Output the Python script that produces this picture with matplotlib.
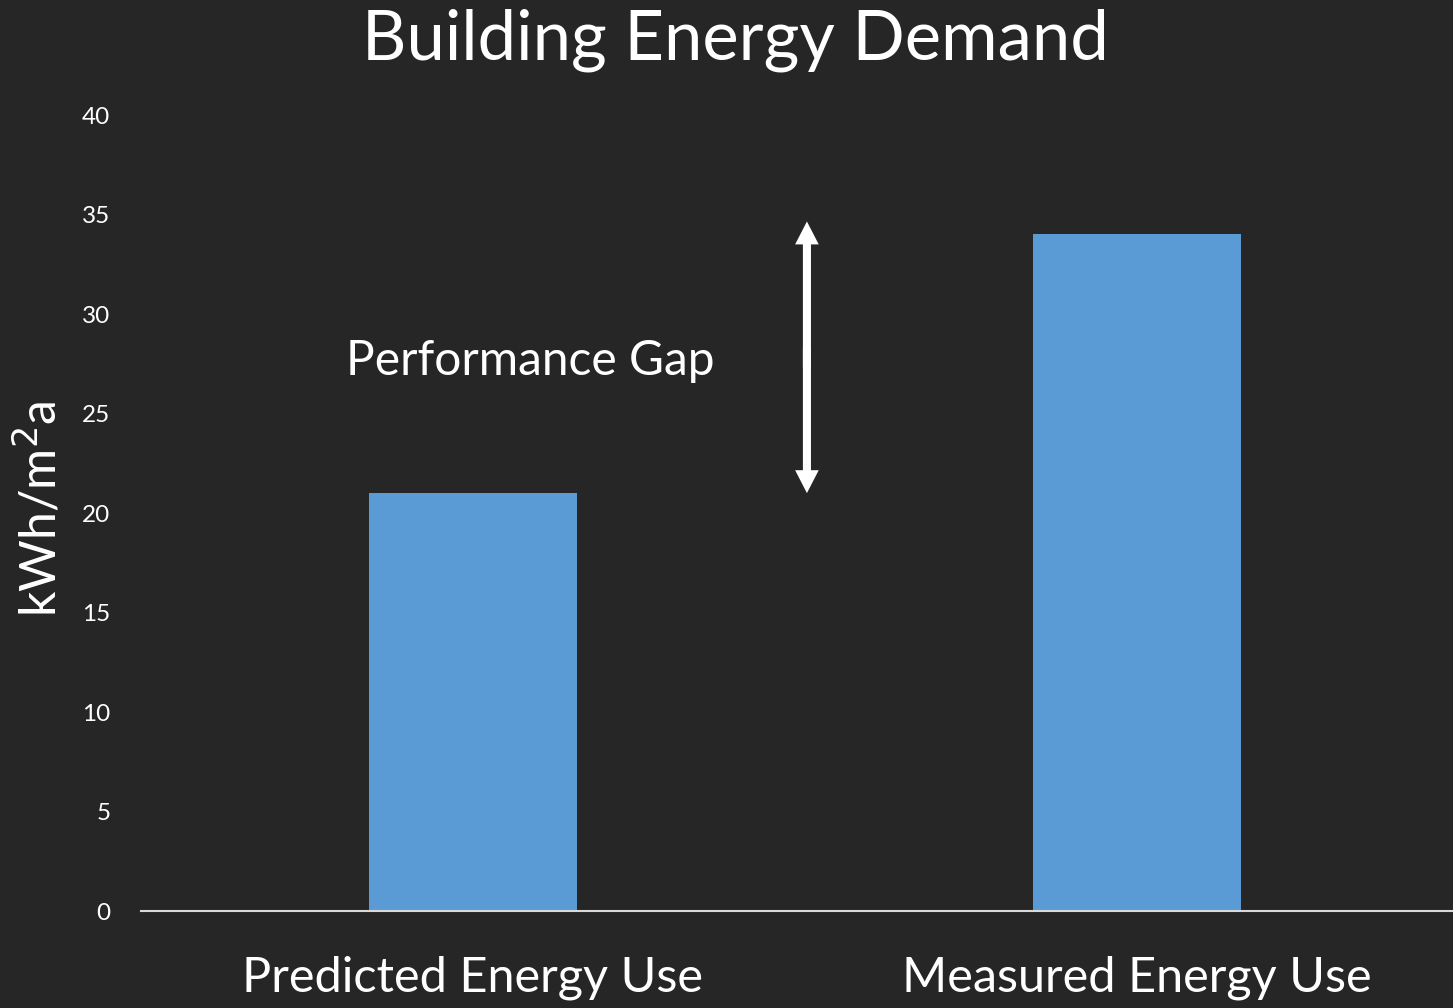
import matplotlib
matplotlib.use("Agg")
import matplotlib.pyplot as plt
from matplotlib.patches import FancyArrowPatch

categories = ["Predicted Energy Use", "Measured Energy Use"]
energy_use = [21, 34]
y_ticks = [0, 5, 10, 15, 20, 25, 30, 35, 40]

bg = "#262626"
bar_color = "#5B9BD5"
plt.rcParams["font.family"] = ["Lato", "DejaVu Sans"]

fig = plt.figure(figsize=(14.53, 10.08), dpi=100, facecolor=bg)
ax = fig.add_axes([0.097, 0.0962, 0.903, 0.7897], facecolor=bg)

x = list(range(len(categories)))
ax.bar(x, energy_use, width=0.313, color=bar_color, zorder=2)

ax.set_xlim(-0.5, 1.476)
ax.set_ylim(0, 40)
ax.set_yticks(y_ticks)
ax.set_xticks(x)
ax.set_xticklabels(categories)
ax.tick_params(axis="y", length=0, pad=22, labelsize=17.5, labelcolor="white")
ax.tick_params(axis="x", length=0, pad=32, labelsize=35, labelcolor="white")

for side in ["top", "right", "left"]:
    ax.spines[side].set_visible(False)
ax.spines["bottom"].set_color("#d9d9d9")
ax.spines["bottom"].set_linewidth(1.5)

# double-headed arrow marking the gap between the two bars
gap_x = 0.503
low, high = energy_use[0], energy_use[1] + 0.65
mid = (low + high) / 2
for start, end in ((mid - 0.5, high), (mid + 0.5, low)):
    ax.add_patch(FancyArrowPatch((gap_x, start), (gap_x, end),
                                 arrowstyle="simple,tail_width=5.8,head_width=17,head_length=16.5",
                                 mutation_scale=1, color="white", lw=0,
                                 shrinkA=0, shrinkB=0, zorder=3))

ax.text(0.086, 26.93, "Performance Gap", color="white", fontsize=34.5,
        ha="center", va="baseline")

fig.text(0.506, 1 - 60 / 1008, "Building Energy Demand", color="white",
         fontsize=49.5, ha="center", va="baseline")
fig.text(0.0275, 0.495, "kWh/m$^2$a", color="white", fontsize=36,
         rotation=90, ha="center", va="center")

fig.savefig("out.png", dpi=100, facecolor=bg)
